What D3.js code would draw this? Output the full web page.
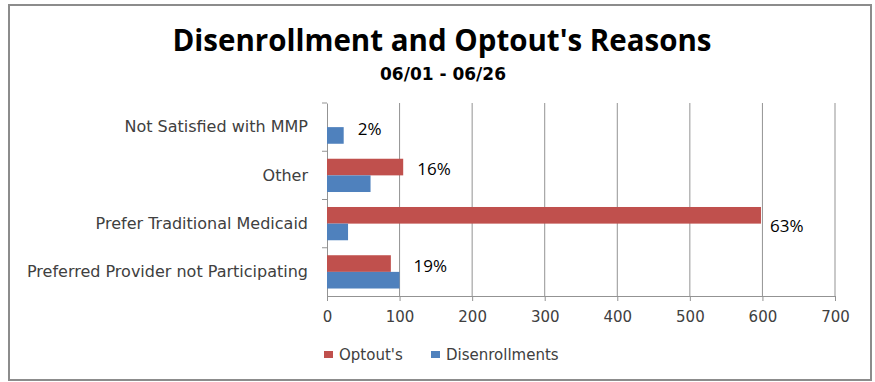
<!DOCTYPE html>
<html lang="en">
<head>
    <meta charset="UTF-8">
    <title>Disenrollment and Optout's Reasons</title>
    <script src="https://d3js.org/d3.v7.min.js"></script>
    <style>
        body { margin: 0; background: #fff; }
        text { font-family: "DejaVu Sans", sans-serif; }
        text.os { font-family: "Open Sans", sans-serif; }
    </style>
</head>
<body>
    <svg></svg>
    <script>
        const width = 875;
        const height = 382;

        const categories = ["Not Satisfied with MMP", "Other", "Prefer Traditional Medicaid", "Preferred Provider not Participating"];
        const optouts = [0, 105, 598, 88];
        const disenrollments = [23, 60, 29, 100];
        const pctLabels = ["2%", "16%", "63%", "19%"];
        const xTicks = [0, 100, 200, 300, 400, 500, 600, 700];
        const seriesNames = ["Optout's", "Disenrollments"];
        const colors = ["#c0504d", "#4f81bd"];

        const margin = {left: 327, right: 40, top: 103, bottom: 86};

        const svg = d3.select("svg")
            .attr("width", width)
            .attr("height", height);

        // frame
        svg.append("rect")
            .attr("x", 9).attr("y", 5)
            .attr("width", 862).attr("height", 375)
            .attr("fill", "#fff")
            .attr("stroke", "#8c8c8c")
            .attr("stroke-width", 2);

        const x = d3.scaleLinear()
            .domain([0, 700])
            .range([margin.left, width - margin.right]);

        const y = d3.scaleBand()
            .domain(categories)
            .range([margin.top, height - margin.bottom]);

        const inner = d3.scaleBand()
            .domain(seriesNames)
            .range([0, y.bandwidth()])
            .paddingOuter(0.45);

        // gridlines
        svg.append("g")
            .selectAll("line")
            .data(xTicks.slice(1))
            .join("line")
                .attr("x1", d => x(d)).attr("x2", d => x(d))
                .attr("y1", margin.top).attr("y2", height - margin.bottom)
                .attr("stroke", "#939393")
                .attr("stroke-width", 1);

        // x axis
        const xAxis = svg.append("g")
            .attr("transform", `translate(0, ${height - margin.bottom})`)
            .call(d3.axisBottom(x).tickValues(xTicks).tickSize(5).tickSizeOuter(0));
        xAxis.select(".domain").attr("stroke", "#939393");
        xAxis.selectAll(".tick line").attr("stroke", "#939393");
        xAxis.selectAll("text")
            .attr("y", 15)
            .attr("dy", "0.71em")
            .attr("font-size", 15)
            .attr("fill", "#404040");

        // y axis
        const yAxis = svg.append("g")
            .attr("transform", `translate(${margin.left}, 0)`)
            .call(d3.axisLeft(y).tickSize(0).tickPadding(19));
        yAxis.select(".domain").attr("stroke", "#939393");
        yAxis.selectAll("text")
            .attr("font-size", 16)
            .attr("fill", "#404040");
        // category separator ticks
        yAxis.selectAll(".sep")
            .data(categories)
            .join("line")
                .attr("class", "sep")
                .attr("x1", -5).attr("x2", 0)
                .attr("y1", d => y(d)).attr("y2", d => y(d))
                .attr("stroke", "#939393");

        // bars
        const rows = categories.map((c, i) => ({
            cat: c,
            vals: [optouts[i], disenrollments[i]],
            label: pctLabels[i]
        }));

        const groups = svg.append("g")
            .selectAll("g")
            .data(rows)
            .join("g")
                .attr("transform", d => `translate(0, ${y(d.cat)})`);

        groups.selectAll("rect")
            .data(d => d.vals.map((v, j) => ({ name: seriesNames[j], value: v, color: colors[j] })))
            .join("rect")
                .attr("x", x(0))
                .attr("y", d => inner(d.name))
                .attr("width", d => x(d.value) - x(0))
                .attr("height", inner.bandwidth())
                .attr("fill", d => d.color);

        // percentage labels
        groups.append("text")
            .attr("class", "os")
            .attr("x", d => {
                const m = Math.max(d.vals[0], d.vals[1]);
                return x(m) + (d.vals[0] > 500 ? 9 : 14);
            })
            .attr("y", d => {
                if (d.vals[0] > 500 || d.vals[0] === 0) return inner("Disenrollments") + 8;
                return inner("Disenrollments");
            })
            .attr("font-size", 17)
            .attr("fill", "#000")
            .text(d => d.label);

        // title
        svg.append("text")
            .attr("class", "os")
            .attr("x", 442).attr("y", 51)
            .attr("text-anchor", "middle")
            .attr("font-size", 29.5)
            .attr("font-weight", "bold")
            .attr("fill", "#000")
            .text("Disenrollment and Optout's Reasons");

        svg.append("text")
            .attr("x", 443).attr("y", 80)
            .attr("text-anchor", "middle")
            .attr("font-size", 17)
            .attr("font-weight", "bold")
            .attr("fill", "#000")
            .text("06/01 - 06/26");

        // legend
        const legend = svg.append("g")
            .attr("transform", "translate(324, 350)");
        const legendX = [0, 107];
        seriesNames.forEach((n, i) => {
            legend.append("rect")
                .attr("x", legendX[i]).attr("y", 1)
                .attr("width", 9).attr("height", 7)
                .attr("fill", colors[i]);
            legend.append("text")
                .attr("x", legendX[i] + 15).attr("y", 10)
                .attr("font-size", 15)
                .attr("fill", "#404040")
                .text(n);
        });
    </script>
</body>
</html>
